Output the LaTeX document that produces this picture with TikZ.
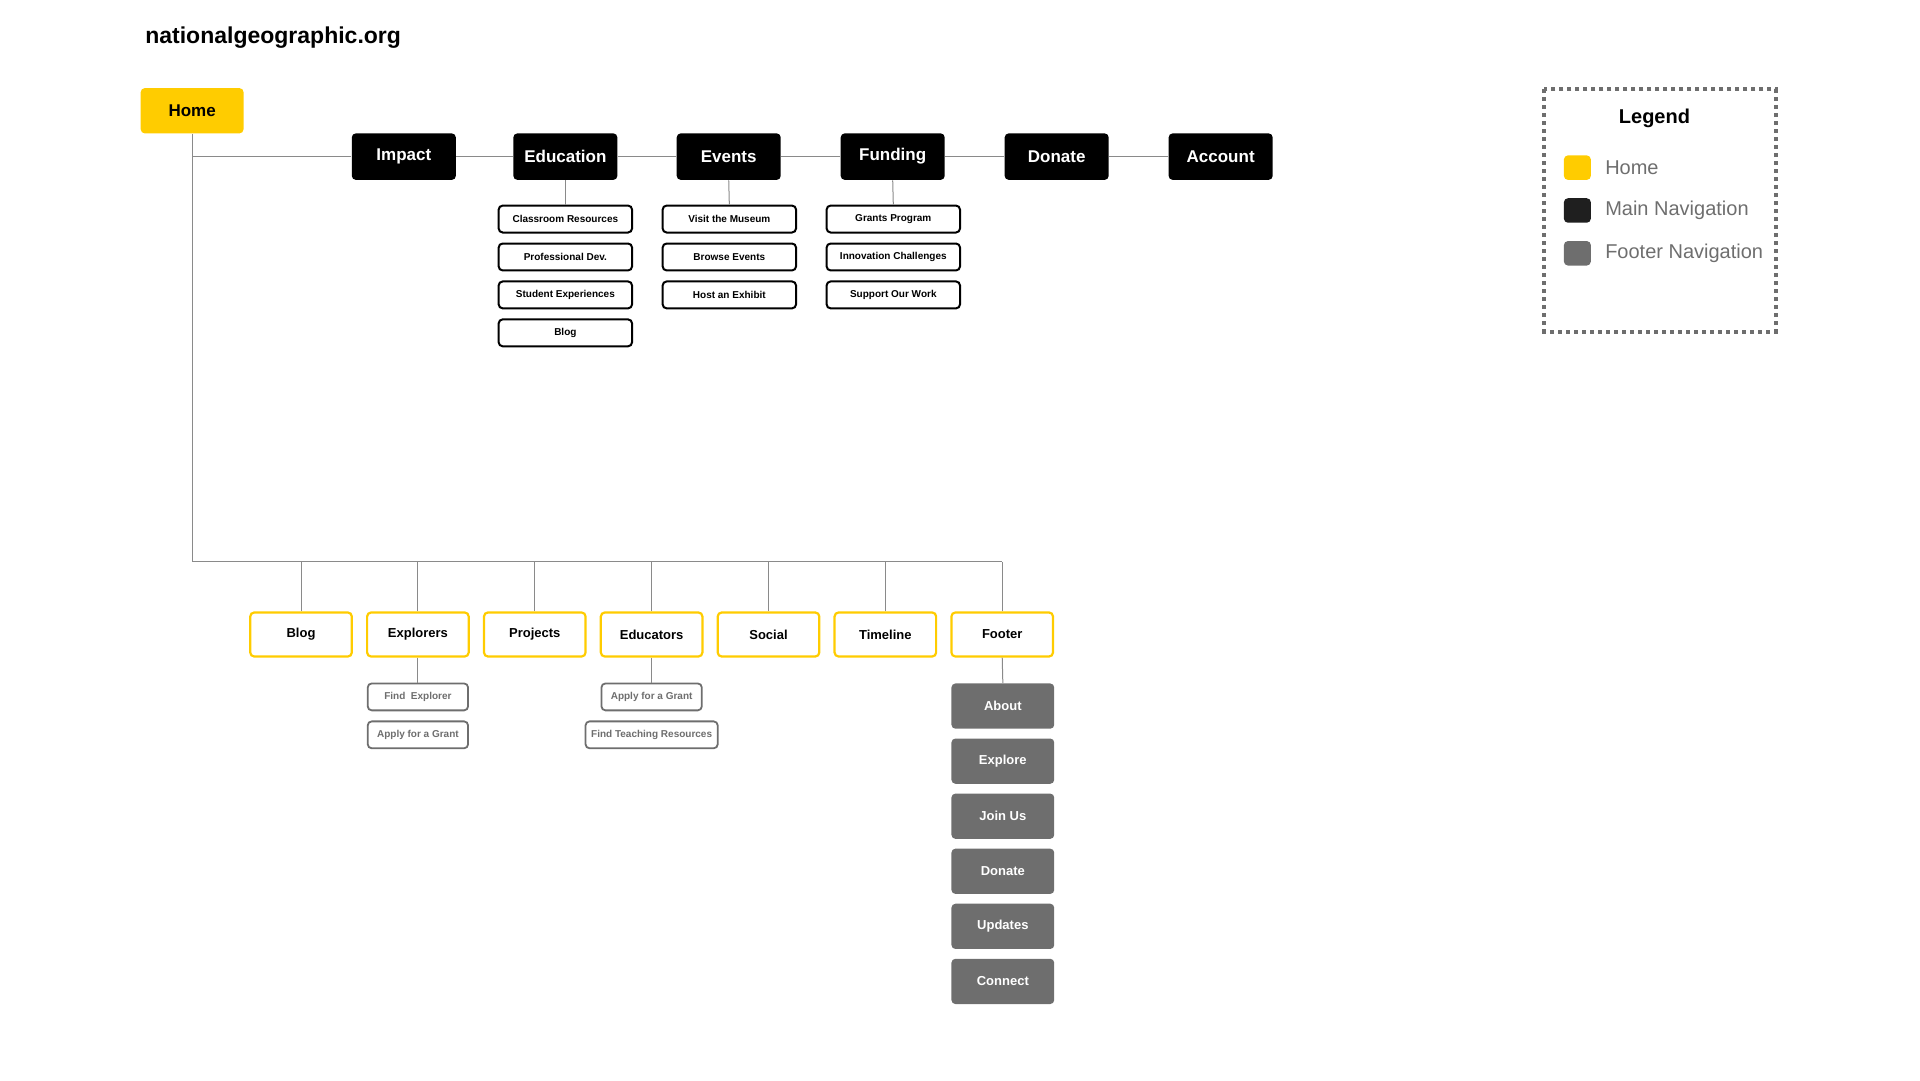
\documentclass[tikz,border=0pt]{standalone}
\usepackage{fontspec}
\setmainfont{Liberation Sans}
\usetikzlibrary{positioning,calc}
\definecolor{homeyellow}{HTML}{FFCC00}
\definecolor{footgray}{HTML}{6E6E6E}
\definecolor{linegray}{HTML}{8A8A8A}
\tikzset{
	homebox/.style={rounded corners=2pt, fill=homeyellow, minimum width=84*0.6118pt, minimum height=37*0.6118pt, font=\bfseries\fontsize{8.5}{10}\selectfont},
	mainbox/.style={rounded corners=2pt, fill=black, text=white, minimum width=85*0.6118pt, minimum height=38*0.6118pt, font=\bfseries\fontsize{8.5}{10}\selectfont},
	subbox/.style={rounded corners=2pt, draw=black, line width=1pt, fill=white, minimum width=109*0.6118pt, minimum height=22*0.6118pt, inner sep=0pt, font=\bfseries\fontsize{5}{6}\selectfont},
	yellowbox/.style={rounded corners=2pt, draw=homeyellow, line width=1.1pt, fill=white, minimum width=83*0.6118pt, minimum height=36*0.6118pt, font=\bfseries\fontsize{6.5}{8}\selectfont},
	greybox/.style={rounded corners=2pt, draw=footgray, line width=0.9pt, fill=white, text=footgray, minimum width=82*0.6118pt, minimum height=22*0.6118pt, inner sep=0pt, font=\bfseries\fontsize{5}{6}\selectfont},
	footbox/.style={rounded corners=2pt, fill=footgray, text=white, minimum width=84*0.6118pt, minimum height=37*0.6118pt, font=\bfseries\fontsize{6.5}{8}\selectfont},
	link/.style={draw=linegray, line width=0.5pt},
	swatch/.style={rounded corners=2pt, minimum width=22*0.6118pt, minimum height=20*0.6118pt},
	legendtext/.style={text=footgray, anchor=west, font=\fontsize{10}{12}\selectfont}
}
\begin{document}
\begin{tikzpicture}[x=0.6118pt, y=-0.6118pt]
	\useasboundingbox (0,0) rectangle (1569,883);
	% title
	\node[anchor=west, font=\bfseries\fontsize{11.5}{13}\selectfont] (title) at (113,31) {nationalgeographic.org};
	% home and main navigation
	\node[homebox] (home) at (157,90.5) {Home};
	\node[mainbox] (impact) at (330,128) {Impact};
	\node[mainbox] (education) at (462,128) {Education};
	\node[mainbox] (events) at (595.5,128) {Events};
	\node[mainbox] (funding) at (729.5,128) {Funding};
	\node[mainbox] (donate) at (863.5,128) {Donate};
	\node[mainbox] (account) at (997.5,128) {Account};
	\coordinate (corner) at (157,128);
	\coordinate (bottom) at (157,459);
	\draw[link] (home.south) -- (bottom);
	\draw[link] (corner) -- (impact.west) (impact.east) -- (education.west) (education.east) -- (events.west)
		(events.east) -- (funding.west) (funding.east) -- (donate.west) (donate.east) -- (account.west);
	% sub pages
	\foreach \name/\col/\items in {edu/462/{Classroom Resources,Professional Dev.,Student Experiences,Blog},
		evt/596/{Visit the Museum,Browse Events,Host an Exhibit},
		fund/730/{Grants Program,Innovation Challenges,Support Our Work}}{
		\foreach \item [count=\i] in \items {
			\node[subbox] (\name\i) at (\col,148+31*\i) {\item};
		}
	}
	\draw[link] (education.south) -- (edu1.north);
	\draw[link] (events.south) -- (evt1.north);
	\draw[link] (funding.south) -- (fund1.north);
	% lower row
	\foreach \name/\label/\col in {blog/Blog/246, explorers/Explorers/341.5, projects/Projects/437,
		educators/Educators/532.5, social/Social/628, timeline/Timeline/723.5, footer/Footer/819}{
		\node[yellowbox] (\name) at (\col,518.5) {\label};
		\draw[link] (\name.north) -- (\col,459);
	}
	\draw[link] (bottom) -- (819,459);
	% explorers and educators
	\node[greybox] (findexp) at (341.5,569.5) {Find\ \ Explorer};
	\node[greybox] (grantexp) at (341.5,600.5) {Apply for a Grant};
	\node[greybox] (grantedu) at (532.5,569.5) {Apply for a Grant};
	\node[greybox, minimum width=108*0.6118pt] (teachedu) at (532.5,600.5) {Find Teaching Resources};
	\draw[link] (explorers.south) -- (findexp.north);
	\draw[link] (educators.south) -- (grantedu.north);
	% footer
	\foreach \label [count=\i] in {About,Explore,Join Us,Donate,Updates,Connect}{
		\node[footbox] (foot\i) at (819.5,532+45*\i) {\label};
	}
	\draw[link] (footer.south) -- (foot1.north);
	% legend
	\draw[footgray, line width=2pt, dash pattern=on 2pt off 2pt] (1262,73) rectangle (1451,271);
	\node[font=\bfseries\fontsize{10}{12}\selectfont] (legend) at (1352,97) {Legend};
	\node[swatch, fill=homeyellow] (keyhome) at (1289,137) {};
	\node[swatch, fill=black!88] (keymain) at (1289,172) {};
	\node[swatch, fill=footgray] (keyfoot) at (1289,207) {};
	\node[legendtext] at (1306,137) {Home};
	\node[legendtext] at (1306,172) {Main Navigation};
	\node[legendtext] at (1306,207) {Footer Navigation};
\end{tikzpicture}
\end{document}
